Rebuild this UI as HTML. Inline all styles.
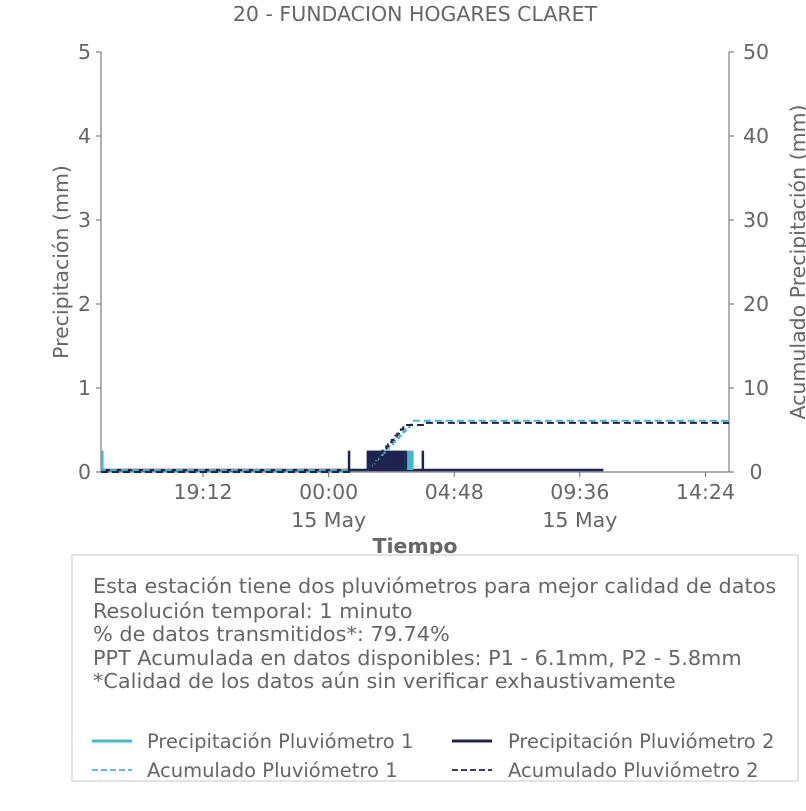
<!DOCTYPE html>
<html><head><meta charset="utf-8"><style>
body{margin:0;background:#fff;width:806px;height:806px;overflow:hidden;font-family:"Liberation Sans","DejaVu Sans",sans-serif}
svg text{font-family:"DejaVu Sans","Liberation Sans",sans-serif;fill:#666}
</style></head><body>
<svg id="chart" width="806" height="806">
<rect x="0" y="0" width="806" height="806" fill="#fff"/>
<text x="415" y="21" font-size="20.5" text-anchor="middle">20 - FUNDACION HOGARES CLARET</text>
<g id="axes"></g>
<g id="series"></g>
<text transform="translate(68,262) rotate(-90)" font-size="20.5" text-anchor="middle">Precipitación (mm)</text>
<text transform="translate(805,262) rotate(-90)" font-size="20.5" text-anchor="middle">Acumulado Precipitación (mm)</text>
<text x="415" y="553" font-size="20.5" font-weight="bold" text-anchor="middle">Tiempo</text>
<rect x="72" y="555" width="726" height="226" fill="#fff" stroke="#e3e3e3" stroke-width="2"/>
<g font-size="20.8">
<text x="93" y="593">Esta estación tiene dos pluviómetros para mejor calidad de datos</text>
<text x="93" y="618">Resolución temporal: 1 minuto</text>
<text x="93" y="641">% de datos transmitidos*: 79.74%</text>
<text x="93" y="665">PPT Acumulada en datos disponibles: P1 - 6.1mm, P2 - 5.8mm</text>
<text x="93" y="688">*Calidad de los datos aún sin verificar exhaustivamente</text>
</g>
<g font-size="19.5">
<g><line x1="92" y1="741" x2="132" y2="741" stroke="#45b9c9" stroke-width="3"/><text x="147" y="748">Precipitación Pluviómetro 1</text></g>
<g><line x1="452" y1="741" x2="492" y2="741" stroke="#1f2350" stroke-width="3"/><text x="508" y="748">Precipitación Pluviómetro 2</text></g>
<g><line x1="92" y1="770" x2="132" y2="770" stroke="#45b9c9" stroke-width="1.8" stroke-dasharray="6,3"/><text x="147" y="777">Acumulado Pluviómetro 1</text></g>
<g><line x1="452" y1="770" x2="492" y2="770" stroke="#1f2350" stroke-width="1.8" stroke-dasharray="6,3"/><text x="508" y="777">Acumulado Pluviómetro 2</text></g>
</g>
</svg>
<script>
// hours since 15:18 on 14 May
const p1Times = [0.05,10.2,10.28,10.36,10.44,10.52,10.6,10.68,10.76,10.84,10.92,11.0,11.08,11.16,11.24,11.32,11.4,11.48,11.56,11.64,11.72,11.8,11.86,11.9];
const p1Values = [0.254,0.254,0.254,0.254,0.254,0.254,0.254,0.254,0.254,0.254,0.254,0.254,0.254,0.254,0.254,0.254,0.254,0.254,0.254,0.254,0.254,0.254,0.254,0.254];
const p2Times = [9.48,10.2,10.27,10.34,10.41,10.48,10.55,10.62,10.69,10.76,10.83,10.9,10.97,11.04,11.11,11.18,11.25,11.32,11.39,11.46,11.55,11.65,12.3];
const p2Values = [0.254,0.254,0.254,0.254,0.254,0.254,0.254,0.254,0.254,0.254,0.254,0.254,0.254,0.254,0.254,0.254,0.254,0.254,0.254,0.254,0.254,0.254,0.254];
const p2DataEnd = 19.2;
const yTicks = [0,1,2,3,4,5];
const y2Ticks = [0,10,20,30,40,50];
const xTickHours = [3.9,8.7,13.5,18.3,23.1];
const xTickLabels = ["19:12","00:00","04:48","09:36","14:24"];
const xSubLabels = ["","15 May","","15 May",""];

const L=101,R=729,T=52,B=472,SPAN=24;
const x=t=>L+t*(R-L)/SPAN;
const y=v=>B-v*(B-T)/5;
const y2=v=>B-v*(B-T)/50;
const NS="http://www.w3.org/2000/svg";
function mk(tag,attrs,parent){const e=document.createElementNS(NS,tag);for(const k in attrs)e.setAttribute(k,attrs[k]);parent.appendChild(e);return e;}
const ax=document.getElementById('axes'), se=document.getElementById('series');

let e=mk('line',{x1:L,y1:T,x2:L,y2:B,stroke:'#666'},ax);


e=mk('line',{x1:R,y1:T,x2:R,y2:B,stroke:'#666'},ax);


e=mk('line',{x1:L,y1:B,x2:R,y2:B,stroke:'#666'},ax);


yTicks.forEach(v=>{
  mk('line',{x1:L-5,y1:y(v),x2:L,y2:y(v),stroke:'#666'},ax);
  const t=mk('text',{x:L-10,y:y(v)+7,'font-size':20.5,'text-anchor':'end'},ax);t.textContent=v;
  
  
});
y2Ticks.forEach(v=>{
  mk('line',{x1:R,y1:y2(v),x2:R+5,y2:y2(v),stroke:'#666'},ax);
  const t=mk('text',{x:R+27,y:y2(v)+7,'font-size':20.5,'text-anchor':'middle'},ax);t.textContent=v;
  
  
});
xTickHours.forEach((h,i)=>{
  mk('line',{x1:x(h),y1:B,x2:x(h),y2:B+5,stroke:'#666'},ax);
  const t=mk('text',{x:x(h),y:B+27,'font-size':20.5,'text-anchor':'middle'},ax);t.textContent=xTickLabels[i];
  
  
  if(xSubLabels[i]){const s=mk('text',{x:x(h),y:B+55,'font-size':20.5,'text-anchor':'middle'},ax);s.textContent=xSubLabels[i];
  
  }
});

function cumPath(times,vals){
  let c=0,d=`M${x(0)},${y2(0)}`;
  times.forEach((t,i)=>{d+=` L${x(t)},${y2(c)}`;c+=vals[i];d+=` L${x(t)},${y2(c)}`;});
  d+=` L${x(SPAN)},${y2(c)}`;return d;
}
e=mk('line',{x1:x(0),y1:y(0)-2,x2:x(p2DataEnd),y2:y(0)-2,stroke:'#1f2350','stroke-width':2.5},se);


function bars(times,vals,color,name){
  times.forEach((t,i)=>{
    const b=mk('line',{x1:x(t),y1:y(0)-2,x2:x(t),y2:y(vals[i]),stroke:color,'stroke-width':2.5},se);
    
    
  });
}
bars(p1Times,p1Values,'#45b9c9','p1-bar');
bars(p2Times,p2Values,'#1f2350','p2-bar');
e=mk('path',{d:cumPath(p1Times,p1Values),fill:'none',stroke:'#45b9c9','stroke-width':2,'stroke-dasharray':'7,4'},se);


e=mk('path',{d:cumPath(p2Times,p2Values),fill:'none',stroke:'#1f2350','stroke-width':2,'stroke-dasharray':'7,4'},se);


</script>
</body></html>
